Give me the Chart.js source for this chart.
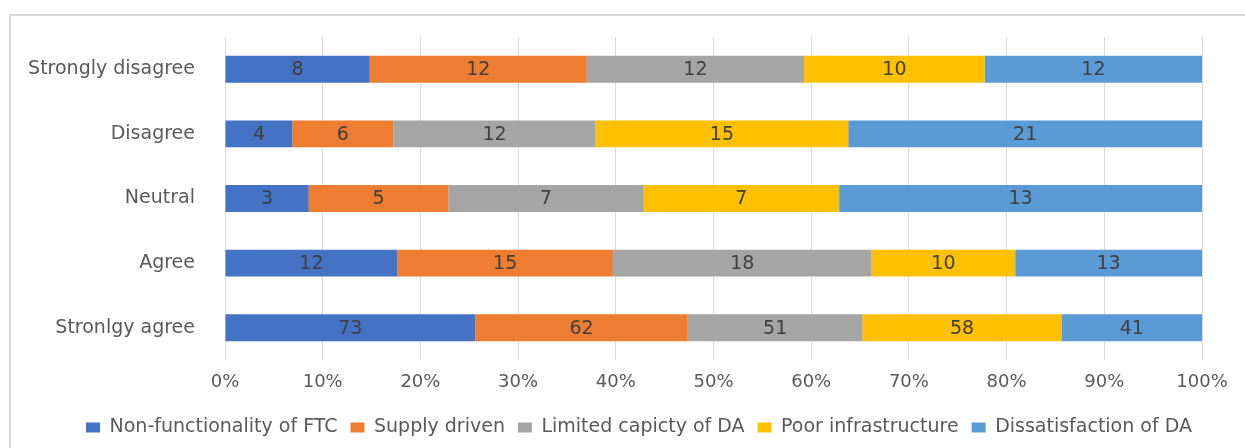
<!DOCTYPE html>
<html>
<head>
<meta charset="utf-8">
<script src="https://cdn.jsdelivr.net/npm/chart.js@4/dist/chart.umd.min.js"></script>
<style>
  html, body { margin: 0; padding: 0; background: #fff; }
  #wrap { position: relative; width: 1245px; height: 448px; overflow: hidden; }
  #frame { position: absolute; left: 9px; top: 14px; width: 1300px; height: 500px;
           border-top: 2px solid #d9d9d9; border-left: 2px solid #d9d9d9; }
  canvas { position: absolute; left: 0; top: 0; }
</style>
</head>
<body>
<div id="wrap">
  <div id="frame"></div>
  <canvas id="chart" width="1245" height="448"></canvas>
</div>
<script>
const categories = ['Strongly disagree', 'Disagree', 'Neutral', 'Agree', 'Stronlgy agree'];
const seriesNames = ['Non-functionality of FTC', 'Supply driven', 'Limited capicty of DA', 'Poor infrastructure', 'Dissatisfaction of DA'];
const nonFunctionality = [8, 4, 3, 12, 73];
const supplyDriven = [12, 6, 5, 15, 62];
const limitedCapacity = [12, 12, 7, 18, 51];
const poorInfrastructure = [10, 15, 7, 10, 58];
const dissatisfaction = [12, 21, 13, 13, 41];
const colors = ['#4472C4', '#ED7D31', '#A5A5A5', '#FFC000', '#5B9BD5'];

const raw = [nonFunctionality, supplyDriven, limitedCapacity, poorInfrastructure, dissatisfaction];
const totals = categories.map((c, i) => raw.reduce((s, arr) => s + arr[i], 0));

const datasets = raw.map((arr, k) => ({
    label: seriesNames[k],
    data: arr.map((v, i) => v / totals[i] * 100),
    counts: arr,
    backgroundColor: colors[k],
    borderWidth: 0,
    barPercentage: 0.834,
    categoryPercentage: 0.5
}));

const FONT = '"DejaVu Sans", sans-serif';

// draws the count in the middle of each segment
const valueLabels = {
    id: 'valueLabels',
    afterDatasetsDraw(chart) {
        const ctx = chart.ctx;
        ctx.save();
        ctx.font = '19px ' + FONT;
        ctx.fillStyle = '#404040';
        ctx.textAlign = 'center';
        ctx.textBaseline = 'middle';
        chart.data.datasets.forEach((ds, k) => {
            chart.getDatasetMeta(k).data.forEach((bar, i) => {
                const cx = (bar.x + bar.base) / 2;
                ctx.fillText(ds.counts[i], cx, bar.y + 1);
            });
        });
        ctx.restore();
    }
};

// the legend sits a bit right of the canvas centre, like the original
const legendShift = {
    id: 'legendShift',
    afterLayout(chart) {
        chart.legend.left += 38;
        chart.legend.right += 38;
    }
};

new Chart(document.getElementById('chart'), {
    type: 'bar',
    data: { labels: categories, datasets: datasets },
    plugins: [valueLabels, legendShift],
    options: {
        indexAxis: 'y',
        responsive: false,
        animation: false,
        layout: { padding: { top: 37, right: 43, left: 0, bottom: 1 } },
        scales: {
            x: {
                stacked: true,
                min: 0,
                max: 100,
                ticks: {
                    stepSize: 10,
                    callback: v => v + '%',
                    color: '#595959',
                    font: { family: FONT, size: 18, lineHeight: 1 },
                    padding: 13.5
                },
                grid: { color: '#d9d9d9', drawTicks: false },
                border: { display: false }
            },
            y: {
                stacked: true,
                afterFit(scale) { scale.width = 225; },
                ticks: {
                    color: '#595959',
                    font: { family: FONT, size: 19 },
                    padding: 22
                },
                grid: { display: false },
                border: { display: false }
            }
        },
        plugins: {
            legend: {
                position: 'bottom',
                labels: {
                    color: '#595959',
                    font: { family: FONT, size: 19 },
                    boxWidth: 14,
                    boxHeight: 10,
                    padding: 13
                }
            },
            tooltip: { enabled: false }
        }
    }
});
</script>
</body>
</html>
